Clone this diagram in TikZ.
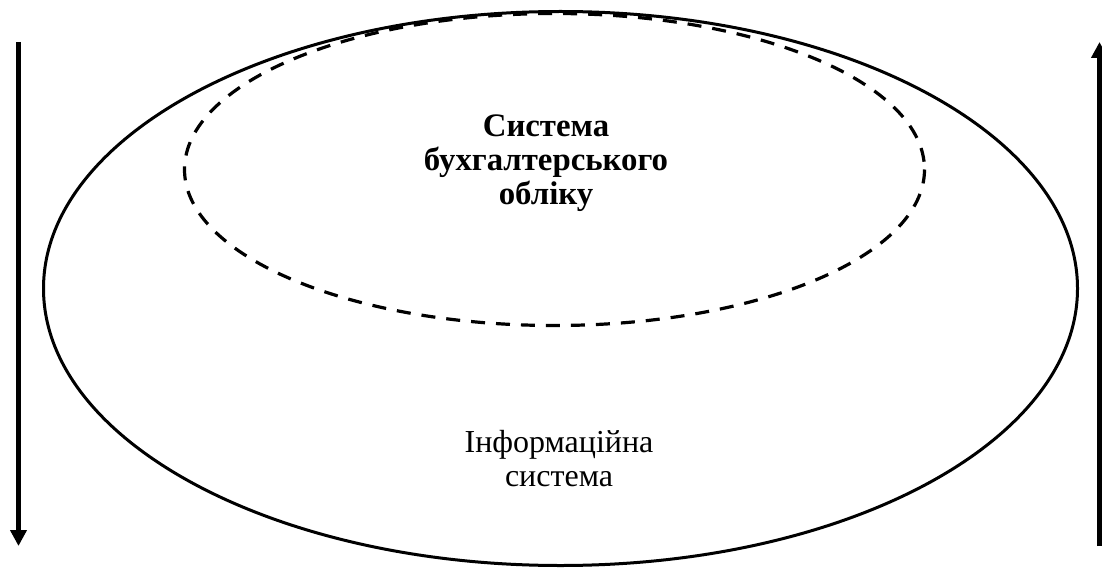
\documentclass[tikz,border=0pt]{standalone}
\usepackage{fontspec}
\setmainfont{Liberation Serif}
\usepackage{tikz}
\usetikzlibrary{arrows.meta, shapes.geometric, positioning}

\begin{document}
\begin{tikzpicture}[x=1pt, y=-1pt,
                oval/.style={draw, ellipse, line width=3pt},
                txt/.style={align=center, font=\fontsize{32}{34}\selectfont},
                flow/.style={line width=4.6pt, -{Triangle[length=16pt, width=16pt]}}]
                \useasboundingbox (0,0) rectangle (1102,572);

                \draw[oval] (560.5,288.5) ellipse [x radius=517, y radius=277];
                \draw[line width=3.2pt, dash pattern=on 14pt off 11pt]
                      (554.5,169.5) ellipse [x radius=370, y radius=156];

                \node[txt, font=\fontsize{32.8}{34}\selectfont\bfseries] (buh)
                      at (546,163) {Система\\бухгалтерського\\обліку};
                \node[txt] (info) at (559,459) {Інформаційна\\система};

                \coordinate (ltop) at (18.5,42);
                \coordinate (lbot) at (18.5,546);
                \coordinate (rbot) at (1099.5,546);
                \coordinate (rtop) at (1099.5,42);
                \draw[flow] (ltop) -- (lbot);
                \draw[flow] (rbot) -- (rtop);
            \end{tikzpicture}
\end{document}
